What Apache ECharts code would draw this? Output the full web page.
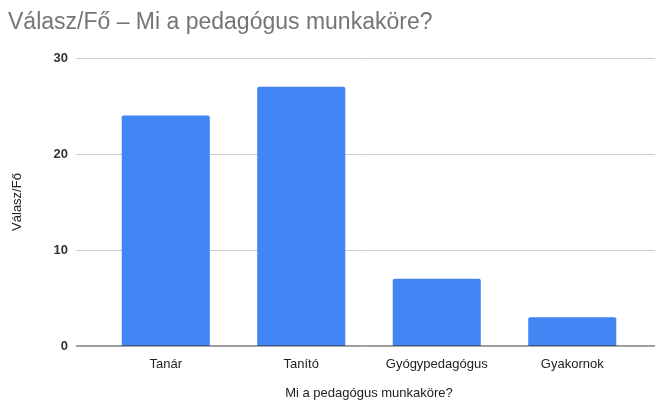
<!DOCTYPE html>
<html><head><meta charset="utf-8">
<script src="https://cdn.jsdelivr.net/npm/echarts@6/dist/echarts.min.js"></script>
<style>html,body{margin:0;padding:0;background:#fff}#c{width:655px;height:401px}</style>
</head><body><div id="c"></div>
<script>
const categories = ['Tanár', 'Tanító', 'Gyógypedagógus', 'Gyakornok'];
const values = [24, 27, 7, 3];
const yTicks = [0, 10, 20, 30];
const titleText = 'Válasz/Fő – Mi a pedagógus munkaköre?';
const xName = 'Mi a pedagógus munkaköre?';
const yName = 'Válasz/Fő';

const chart = echarts.init(document.getElementById('c'));
const font = 'Arial, "Liberation Sans", sans-serif';
chart.setOption({
  animation: false,
  title: { text: titleText, left: 3, top: 6, textStyle: { fontFamily: font, fontSize: 23, fontWeight: 'normal', color: '#757575' } },
  grid: [
    { left: 76, right: 0, top: 58, bottom: 55, outerBoundsMode: 'none', containLabel: false },
    { left: 98, right: 15, top: 58, bottom: 55, outerBoundsMode: 'none', containLabel: false }
  ],
  xAxis: [
    { gridIndex: 0, type: 'value', min: 0, max: 1, show: false },
    { gridIndex: 1, type: 'category', data: categories,
      axisLine: { show: false }, axisTick: { show: false },
      axisLabel: { margin: 12, fontFamily: font, fontSize: 13, color: '#222' },
      name: xName, nameLocation: 'middle', nameGap: 41,
      nameTextStyle: { fontFamily: font, fontSize: 13, color: '#222' } }
  ],
  yAxis: [
    { gridIndex: 0, type: 'value', min: yTicks[0], max: yTicks[yTicks.length - 1], interval: 10,
      axisLine: { show: false }, axisTick: { show: false },
      axisLabel: { margin: 8, fontFamily: font, fontSize: 13, fontWeight: 'bold', color: '#333' },
      splitLine: { lineStyle: { color: '#cccccc', width: 1 } },
      name: yName, nameLocation: 'middle', nameGap: 52, nameRotate: 90,
      nameTextStyle: { fontFamily: font, fontSize: 13, color: '#222' } },
    { gridIndex: 1, type: 'value', min: 0, max: 30, show: false }
  ],
  series: [
    { type: 'bar', xAxisIndex: 1, yAxisIndex: 1, data: values, barCategoryGap: '35%',
      itemStyle: { color: '#4285F4', borderRadius: [2, 2, 0, 0] } },
    { type: 'line', xAxisIndex: 0, yAxisIndex: 0, data: [[0, 0], [1, 0]], symbol: 'none',
      lineStyle: { color: '#333', width: 1 }, z: 5, silent: true }
  ]
});
</script></body></html>
